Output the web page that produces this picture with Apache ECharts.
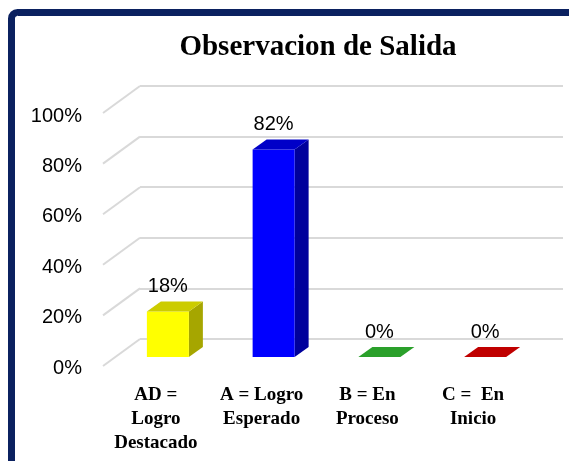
<!DOCTYPE html>
<html>
<head>
<meta charset="utf-8">
<script src="https://cdn.jsdelivr.net/npm/echarts@6/dist/echarts.min.js"></script>
<style>
  html, body { margin: 0; padding: 0; background: #fff; }
  #main { width: 569px; height: 461px; }
</style>
</head>
<body>
<div id="main"></div>
<script>
// datos del grafico
var categorias = ['AD =\nLogro\nDestacado', 'A = Logro\nEsperado', 'B = En\nProceso', 'C =  En\nInicio'];
var valores = [18, 82, 0, 0];
var ticks = [0, 20, 40, 60, 80, 100];

// colores de cada barra: frente, tapa, lado
var colorFrente = ['#FFFF00', '#0000FF', '#33B833', '#D00000'];
var colorTapa = ['#CCCC00', '#0000C8', '#2AA02A', '#C00000'];
var colorLado = ['#A6A600', '#00009C', '#1E801E', '#900000'];

// desplazamientos de la perspectiva
var piso = { dx: -37, dy: 27 };   // profundidad del piso
var frente = { dx: -25, dy: 18 }; // cara frontal de las barras
var fondo = { dx: 14, dy: -10 };  // profundidad de cada barra
var anchoBarra = 42;

var chart = echarts.init(document.getElementById('main'));

// lineas diagonales del piso/pared izquierda
function renderDiagonal(params, api) {
  var p = api.coord([0, api.value(1)]);
  var x = params.coordSys.x;
  return {
    type: 'line',
    shape: { x1: x, y1: p[1], x2: x + piso.dx, y2: p[1] + piso.dy },
    style: { stroke: '#D9D9D9', lineWidth: 2 },
    silent: true
  };
}

// barra 3D
function renderBarra(params, api) {
  var i = api.value(0);
  var v = api.value(1);
  var top = api.coord([i, v]);
  var base = api.coord([i, 0]);
  var cx = top[0] + frente.dx;
  var x1 = cx - anchoBarra / 2;
  var x2 = cx + anchoBarra / 2;
  var y1 = top[1] + frente.dy;
  var y2 = base[1] + frente.dy;
  var hijos = [];
  if (y2 - y1 > 0.5) {
    hijos.push({
      type: 'polygon',
      shape: { points: [[x2, y1], [x2 + fondo.dx, y1 + fondo.dy], [x2 + fondo.dx, y2 + fondo.dy], [x2, y2]] },
      style: { fill: colorLado[i] }
    });
    hijos.push({
      type: 'rect',
      shape: { x: x1, y: y1, width: anchoBarra, height: y2 - y1 },
      style: { fill: colorFrente[i] }
    });
  }
  hijos.push({
    type: 'polygon',
    shape: { points: [[x1, y1], [x2, y1], [x2 + fondo.dx, y1 + fondo.dy], [x1 + fondo.dx, y1 + fondo.dy]] },
    style: { fill: colorTapa[i] }
  });
  hijos.push({
    type: 'text',
    style: {
      x: cx, y: y1 + fondo.dy - 15,
      text: v + '%',
      fill: '#000',
      font: '20px "Liberation Sans", Arial, sans-serif',
      textAlign: 'center',
      textVerticalAlign: 'middle'
    }
  });
  return { type: 'group', children: hijos };
}

var option = {
  backgroundColor: '#fff',
  animation: false,
  title: {
    text: 'Observacion de Salida',
    left: 318,
    top: 33,
    textAlign: 'center',
    padding: 0,
    textStyle: {
      fontFamily: '"Liberation Serif", "Times New Roman", serif',
      fontWeight: 'bold',
      fontSize: 29,
      color: '#000'
    }
  },
  graphic: [{
    type: 'rect',
    shape: { x: 11.5, y: 12.5, width: 700, height: 700, r: 6 },
    style: { fill: 'none', stroke: '#0B2160', lineWidth: 7 },
    silent: true
  }],
  grid: [
    // pared del fondo
    { left: 140, right: 6, top: 86, bottom: 122 },
    // plano delantero (etiquetas)
    { left: 103, right: 43, top: 116, bottom: 93 }
  ],
  xAxis: [
    { type: 'category', gridIndex: 0, data: categorias, show: false },
    {
      type: 'category', gridIndex: 1, data: categorias,
      axisLine: { show: false }, axisTick: { show: false },
      axisLabel: {
        interval: 0,
        margin: 15,
        color: '#000',
        fontFamily: '"Liberation Serif", "Times New Roman", serif',
        fontWeight: 'bold',
        fontSize: 19,
        lineHeight: 24
      }
    }
  ],
  yAxis: [
    {
      type: 'value', gridIndex: 0, min: 0, max: 100, interval: 20,
      axisLabel: { show: false }, axisLine: { show: false }, axisTick: { show: false },
      splitLine: { lineStyle: { color: '#D9D9D9', width: 2 } }
    },
    {
      type: 'value', gridIndex: 1, min: 0, max: 100, interval: 20,
      axisLine: { show: false }, axisTick: { show: false }, splitLine: { show: false },
      axisLabel: {
        formatter: '{value}%',
        margin: 21,
        color: '#000',
        fontFamily: '"Liberation Sans", Arial, sans-serif',
        fontSize: 20
      }
    }
  ],
  series: [
    {
      type: 'custom',
      xAxisIndex: 0, yAxisIndex: 0,
      renderItem: renderDiagonal,
      data: ticks.map(function (t) { return [0, t]; }),
      z: 1
    },
    {
      type: 'custom',
      xAxisIndex: 0, yAxisIndex: 0,
      renderItem: renderBarra,
      data: valores.map(function (v, i) { return [i, v]; }),
      z: 5
    }
  ]
};

chart.setOption(option);
</script>
</body>
</html>
